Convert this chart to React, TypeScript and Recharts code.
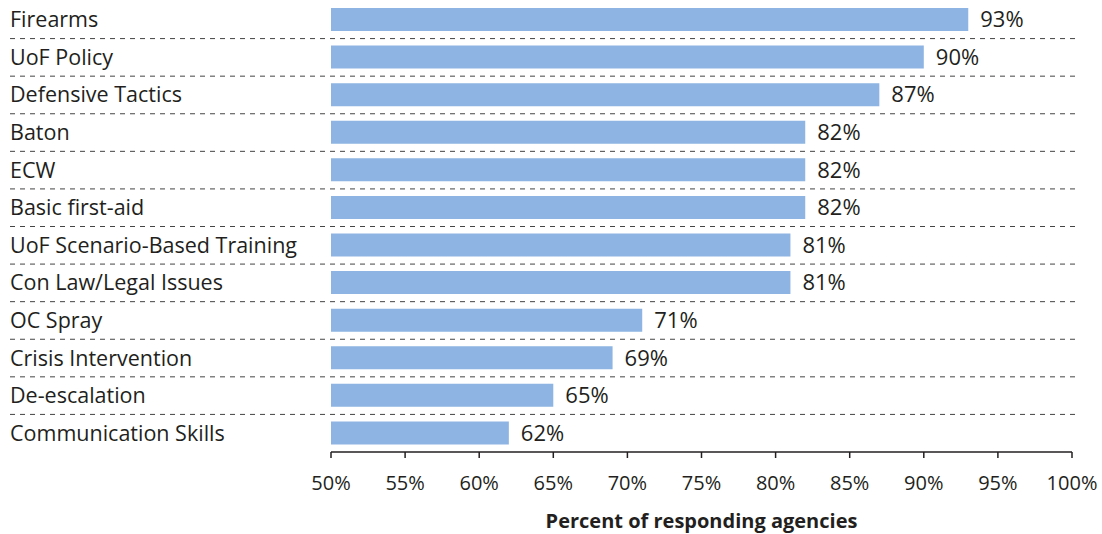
import React from "react";
import { BarChart, Bar, XAxis, YAxis, LabelList } from "recharts";

const categories = [
  "Firearms",
  "UoF Policy",
  "Defensive Tactics",
  "Baton",
  "ECW",
  "Basic first-aid",
  "UoF Scenario-Based Training",
  "Con Law/Legal Issues",
  "OC Spray",
  "Crisis Intervention",
  "De-escalation",
  "Communication Skills",
];
const values = [93, 90, 87, 82, 82, 82, 81, 81, 71, 69, 65, 62];
const xTicks = [50, 55, 60, 65, 70, 75, 80, 85, 90, 95, 100];
const xTitle = "Percent of responding agencies";

const data = categories.map((name, i) => ({ name, value: values[i] }));

const W = 1102;
const H = 534;
const MARGIN = { top: 1, right: 30, bottom: 0, left: 0 };
const X_AXIS_H = 82;
const Y_AXIS_W = 331;
const FONT = "'Open Sans', sans-serif";
const TEXT = "#231F20";
const BAND = (H - MARGIN.top - MARGIN.bottom - X_AXIS_H) / categories.length;

const YTick = (props: any) => {
  const { y, payload, index } = props;
  const last = index === categories.length - 1;
  return (
    <g>
      <text
        x={10}
        y={y}
        dy="0.35em"
        textAnchor="start"
        fontSize={21.5}
        fontFamily={FONT}
        fill={TEXT}
      >
        {payload.value}
      </text>
      {!last && (
        <line
          x1={10}
          x2={1075}
          y1={y + BAND / 2}
          y2={y + BAND / 2}
          stroke="#444"
          strokeWidth={1}
          strokeDasharray="5 5"
        />
      )}
    </g>
  );
};

export default function App() {
  return (
    <div style={{ position: "absolute", left: 0, top: 0, width: W, height: H, background: "#fff" }}>
      <BarChart
        width={W}
        height={H}
        data={data}
        layout="vertical"
        margin={MARGIN}
        barCategoryGap={0}
      >
        <XAxis
          type="number"
          domain={[50, 100]}
          ticks={xTicks}
          allowDataOverflow
          height={X_AXIS_H}
          tickFormatter={(v: number) => `${v}%`}
          tick={{ fontSize: 20, fontFamily: FONT, fill: TEXT }}
          tickSize={6}
          tickMargin={18}
          axisLine={{ stroke: TEXT, strokeWidth: 1.5 }}
          tickLine={{ stroke: TEXT, strokeWidth: 1.5 }}
          label={{
            value: xTitle,
            position: "insideBottom",
            offset: 6,
            style: { fontSize: 20, fontFamily: FONT, fontWeight: 700, fill: TEXT },
          }}
        />
        <YAxis
          type="category"
          dataKey="name"
          width={Y_AXIS_W}
          axisLine={false}
          tickLine={false}
          tick={<YTick />}
          interval={0}
        />
        <Bar dataKey="value" fill="#8DB4E2" barSize={23} isAnimationActive={false}>
          <LabelList
            dataKey="value"
            position="right"
            offset={12}
            formatter={(v: any) => `${v}%`}
            style={{ fontSize: 22, fontFamily: FONT, fill: TEXT }}
          />
        </Bar>
      </BarChart>
    </div>
  );
}
